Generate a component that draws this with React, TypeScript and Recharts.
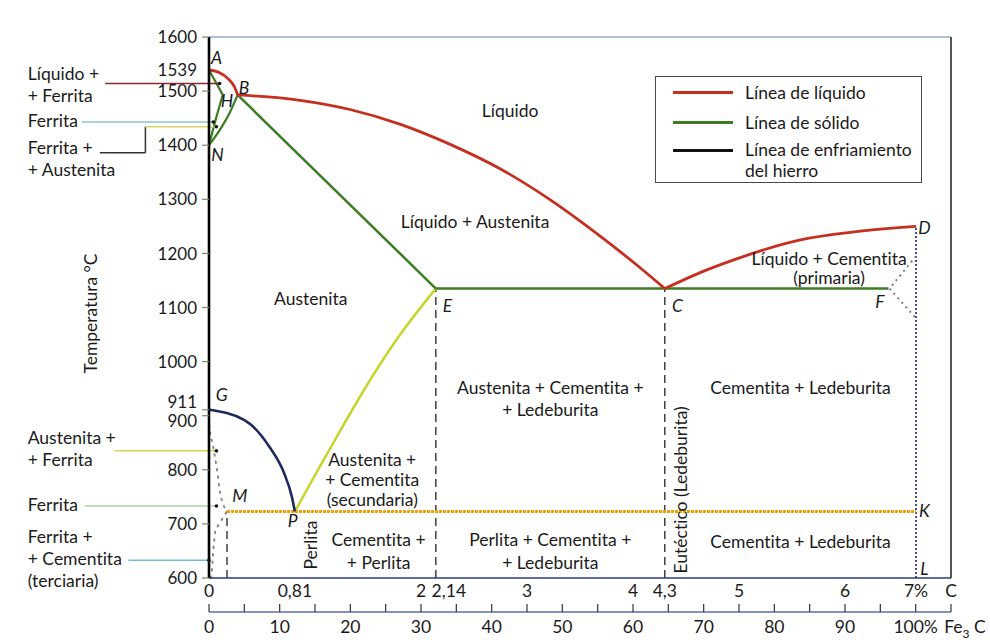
import React from 'react';
import { LineChart, Line, XAxis, YAxis, ReferenceLine, ReferenceDot, Legend } from 'recharts';

const FONT = 'Lato, "Open Sans", sans-serif';
const NOLIG: React.CSSProperties = { fontVariantLigatures: 'none', fontFeatureSettings: '"liga" 0, "clig" 0' };
const RED = '#c62f1f';
const GREEN = '#3c7d24';
const NAVY = '#1f2b5e';
const YELLOW = '#c5d62a';
const ORANGE = '#f2a007';

// ---- curves: [C %, T °C] ----
const liquidusAB = [[0, 1539], [0.1, 1534], [0.18, 1523], [0.24, 1508], [0.27, 1493]];
const liquidusBC = [[0.27, 1493], [0.86, 1483], [1.33, 1466], [1.8, 1439], [2.27, 1402], [2.75, 1356], [3.22, 1299], [3.69, 1232], [4.07, 1173], [4.3, 1135]];
const liquidusCD = [[4.3, 1135], [4.64, 1165], [4.95, 1188], [5.58, 1225], [6.05, 1239], [6.67, 1250]];
const solidusAH = [[0, 1539], [0.13, 1493]];
const solidusNH = [[0, 1400], [0.06, 1445], [0.13, 1493]];
const solidusNB = [[0, 1400], [0.12, 1434], [0.2, 1462], [0.27, 1493]];
const solidusBE = [[0.27, 1493], [2.14, 1135]];
const eutecticECF = [[2.14, 1135], [6.41, 1135]];
const lineES = [[0.81, 723], [1.0, 790], [1.24, 873], [1.52, 966], [1.8, 1049], [2.14, 1135]];
const lineGP = [[0, 911], [0.335, 892], [0.568, 843], [0.708, 794], [0.782, 750], [0.81, 723]];
const eutectoidMK = [[0.17, 723], [6.67, 723]];
const dottedGM = [[0, 911], [0.0, 886], [0.04, 842], [0.08, 794], [0.1, 763], [0.17, 723]];
const dottedQM = [[0.02, 600], [0.03, 620], [0.04, 652], [0.06, 689], [0.17, 723]];
const dottedDFK = [[6.67, 1195], [6.42, 1135], [6.67, 1080]];
const dashE = [[2.14, 600], [2.14, 1135]];
const dashC = [[4.3, 600], [4.3, 1135]];
const dashM = [[0.17, 600], [0.17, 723]];
const dottedDL = [[6.67, 600], [6.67, 1250]];

// ---- axes ----
const tempTicks = [600, 700, 800, 900, 911, 1000, 1100, 1200, 1300, 1400, 1500, 1539, 1600];
const carbonTicks = [0, 0.81, 2, 2.14, 3, 4, 4.3, 5, 6, 6.67, 7];
const carbonLabels = ['0', '0,81', '2', '2,14', '3', '4', '4,3', '5', '6', '7%', 'C'];
const cementiteTicks = [0, 5, 10, 15, 20, 25, 30, 35, 40, 45, 50, 55, 60, 65, 70, 75, 80, 85, 90, 95, 100, 105];
const cementiteLabels = ['0', '', '10', '', '20', '', '30', '', '40', '', '50', '', '60', '', '70', '', '80', '', '90', '', '100%', 'Fe3C'];
const cementiteRange = [0, 105];

// ---- text annotations ----
const regionLabels = [
  { c: 2.84, t: 1463, lines: ['Líquido'] },
  { c: 2.51, t: 1258, lines: ['Líquido + Austenita'] },
  { c: 0.96, t: 1117, lines: ['Austenita'] },
  { c: 5.85, t: 1191, lines: ['Líquido + Cementita', '(primaria)'] },
  { c: 3.22, t: 951, lines: ['Austenita + Cementita +', '+ Ledeburita'] },
  { c: 5.58, t: 951, lines: ['Cementita + Ledeburita'] },
  { c: 1.54, t: 818, lines: ['Austenita +', '+ Cementita', '(secundaria)'] },
  { c: 1.6, t: 670, lines: ['Cementita +', '+ Perlita'] },
  { c: 3.22, t: 670, lines: ['Perlita + Cementita +', '+ Ledeburita'] },
  { c: 5.58, t: 668, lines: ['Cementita + Ledeburita'] },
];
const regionLineGaps = [0, 0, 0, 19, 22, 0, 20, 23, 23, 0];
const rotatedLabels = [
  { c: 0.96, t: 661, text: 'Perlita' },
  { c: 4.45, t: 763, text: 'Eutéctico (Ledeburita)' },
];
const pointLabels = [
  { c: 0.07, t: 1561, text: 'A' },
  { c: 0.33, t: 1506, text: 'B' },
  { c: 0.17, t: 1483, text: 'H' },
  { c: 0.08, t: 1382, text: 'N' },
  { c: 0.12, t: 938, text: 'G' },
  { c: 0.29, t: 752, text: 'M' },
  { c: 0.79, t: 705, text: 'P' },
  { c: 2.25, t: 1104, text: 'E' },
  { c: 4.42, t: 1104, text: 'C' },
  { c: 6.75, t: 1247, text: 'D' },
  { c: 6.33, t: 1110, text: 'F' },
  { c: 6.75, t: 724, text: 'K' },
  { c: 6.75, t: 618, text: 'L' },
];
const sideNotes = [
  { c: -1.71, t: 1533, lines: ['Líquido +', '+ Ferrita'] },
  { c: -1.71, t: 1446, lines: ['Ferrita'] },
  { c: -1.71, t: 1395, lines: ['Ferrita +', '+ Austenita'] },
  { c: -1.71, t: 859, lines: ['Austenita +', '+ Ferrita'] },
  { c: -1.71, t: 735, lines: ['Ferrita'] },
  { c: -1.71, t: 676, lines: ['Ferrita +', '+ Cementita', '(terciaria)'] },
];
const leaderSegments = [
  { from: [-0.98, 1514], to: [0.1, 1514], color: '#8b2a2a', dot: true },
  { from: [-1.2, 1443], to: [0.04, 1443], color: '#86c9c9', dot: true },
  { from: [-1.03, 1386], to: [-0.6, 1386], color: '#333333', dot: false },
  { from: [-0.6, 1386], to: [-0.6, 1434], color: '#333333', dot: false },
  { from: [-0.6, 1434], to: [0.07, 1434], color: '#d6d468', dot: true },
  { from: [-0.89, 835], to: [0.07, 835], color: '#d8d448', dot: true },
  { from: [-1.17, 733], to: [0.07, 733], color: '#a8d4a0', dot: true },
  { from: [-0.76, 633], to: [0.0, 633], color: '#6cc0cc', dot: true },
];
const legendItems = [
  { label: ['Línea de líquido'], color: RED },
  { label: ['Línea de sólido'], color: GREEN },
  { label: ['Línea de enfriamiento', 'del hierro'], color: '#111111' },
];

const toPts = (arr: number[][]) => arr.map(([c, t]) => ({ c, t }));

type SeriesDef = { pts: number[][]; color: string; w: number; type: 'monotone' | 'linear'; dash?: string; cap?: 'round' | 'butt' };
const series: SeriesDef[] = [
  { pts: dashE, color: '#222', w: 1.3, type: 'linear', dash: '8 5' },
  { pts: dashC, color: '#222', w: 1.3, type: 'linear', dash: '8 5' },
  { pts: dashM, color: '#222', w: 1.3, type: 'linear', dash: '8 5' },
  { pts: dottedDL, color: '#4a4a9a', w: 2, type: 'linear', dash: '2 2' },
  { pts: dottedDFK, color: '#7a7a9a', w: 2, type: 'linear', dash: '2 4' },
  { pts: dottedGM, color: '#8a8a8a', w: 2, type: 'monotone', dash: '1.5 6', cap: 'round' },
  { pts: dottedQM, color: '#8a8a8a', w: 2, type: 'linear', dash: '1.5 6', cap: 'round' },
  { pts: eutectoidMK, color: ORANGE, w: 3, type: 'linear', dash: '3 1' },
  { pts: lineES, color: YELLOW, w: 2.5, type: 'monotone' },
  { pts: lineGP, color: NAVY, w: 2.6, type: 'monotone' },
  { pts: eutecticECF, color: GREEN, w: 2.5, type: 'linear' },
  { pts: solidusBE, color: GREEN, w: 2.5, type: 'linear' },
  { pts: solidusAH, color: GREEN, w: 2.2, type: 'linear' },
  { pts: solidusNH, color: GREEN, w: 2.2, type: 'monotone' },
  { pts: solidusNB, color: GREEN, w: 2.2, type: 'monotone' },
  { pts: liquidusAB, color: RED, w: 2.8, type: 'monotone' },
  { pts: liquidusBC, color: RED, w: 2.8, type: 'monotone' },
  { pts: liquidusCD, color: RED, w: 2.8, type: 'monotone' },
];

function TextBlock(props: any) {
  const { cx, cy, lines, gap = 21, anchor = 'middle', size = 17.5, italic = false, rotate = 0 } = props;
  if (cx == null || cy == null) return null;
  return (
    <text
      x={cx}
      y={cy}
      textAnchor={anchor}
      fontFamily={FONT}
      fontSize={size}
      fontStyle={italic ? 'italic' : 'normal'}
      fill="#1a1a1a"
      style={NOLIG}
      transform={rotate ? `rotate(${rotate} ${cx} ${cy})` : undefined}
    >
      {lines.map((s: string, i: number) => (
        <tspan key={i} x={cx} y={cy + i * gap} dy="0.36em">
          {s}
        </tspan>
      ))}
    </text>
  );
}

function YTick(props: any) {
  const { x, y, payload } = props;
  const v = payload.value;
  const dy = v === 911 ? -8 : v === 900 ? 5 : 0;
  return (
    <g>
      {v !== 1539 && <line x1={x + 5} x2={x + 12} y1={y} y2={y} stroke="#7d8a6a" strokeWidth={1.2} />}
      <text x={x} y={y + dy} dy="0.36em" textAnchor="end" fontFamily={FONT} fontSize={17} fill="#1a1a1a">
        {v}
      </text>
    </g>
  );
}

function CTick(props: any) {
  const { x, y, payload } = props;
  const idx = carbonTicks.indexOf(payload.value);
  const label = idx >= 0 ? carbonLabels[idx] : '';
  const dx = label === '2,14' ? 13 : 0;
  return (
    <text x={x + dx} y={y + 6} dy="0.36em" textAnchor="middle" fontFamily={FONT} fontSize={17.5} fill="#1a1a1a">
      {label}
    </text>
  );
}

function FeTick(props: any) {
  const { x, y, payload } = props;
  const idx = cementiteTicks.indexOf(payload.value);
  const label = idx >= 0 ? cementiteLabels[idx] : '';
  const base = y - 7;
  return (
    <g>
      <line x1={x} x2={x} y1={base - 8} y2={base} stroke="#333" strokeWidth={1.2} />
      {label === 'Fe3C' ? (
        <text x={x + 14} y={y + 8} dy="0.36em" textAnchor="middle" fontFamily={FONT} fontSize={17.5} fill="#1a1a1a">
          Fe
          <tspan fontSize={12} dy={5}>3</tspan>
          <tspan dy={-5}> C</tspan>
        </text>
      ) : (
        <text x={x} y={y + 8} dy="0.36em" textAnchor="middle" fontFamily={FONT} fontSize={17.5} fill="#1a1a1a">
          {label}
        </text>
      )}
    </g>
  );
}

function LegendBox() {
  const swatchY = [15.7, 45.7, 73.3];
  return (
    <div
      style={{
        position: 'relative',
        width: 267,
        height: 107,
        border: '1.5px solid #4a4a4a',
        boxSizing: 'border-box',
        background: '#fff',
        fontFamily: FONT,
        fontSize: 17.5,
        color: '#1a1a1a',
        ...NOLIG,
      }}
    >
      {legendItems.map((it, i) => (
        <React.Fragment key={i}>
          <div style={{ position: 'absolute', left: 17, top: swatchY[i] - 1.5, width: 60, height: 3, background: it.color }} />
          {it.label.map((s, j) => (
            <div key={j} style={{ position: 'absolute', left: 89, top: swatchY[i] - 11 + j * 20.7, lineHeight: '22px', whiteSpace: 'nowrap' }}>
              {s}
            </div>
          ))}
        </React.Fragment>
      ))}
    </div>
  );
}

export default function App() {
  return (
    <div style={{ position: 'absolute', left: 0, top: 0, width: 990, height: 640, background: '#fff' }}>
      <LineChart width={990} height={640} margin={{ top: 37, right: 39, bottom: 0, left: 149 }}>
        <XAxis
          xAxisId="c"
          dataKey="c"
          type="number"
          domain={[0, 7]}
          ticks={carbonTicks}
          interval={0}
          height={34}
          tickLine={false}
          tickSize={6}
          tickMargin={1}
          axisLine={{ stroke: '#2b3a80', strokeWidth: 1.6 }}
          tick={<CTick />}
        />
        <XAxis
          xAxisId="fe"
          dataKey="f"
          type="number"
          domain={[0, 105]}
          ticks={cementiteTicks}
          interval={0}
          height={28}
          tickLine={false}
          tickSize={6}
          tickMargin={1}
          axisLine={{ stroke: '#5b6fa6', strokeWidth: 1.4 }}
          tick={<FeTick />}
        />
        <YAxis
          type="number"
          domain={[600, 1600]}
          ticks={tempTicks}
          interval={0}
          width={60}
          tickLine={false}
          tickSize={7}
          tickMargin={5}
          axisLine={{ stroke: '#000', strokeWidth: 2.6 }}
          tick={<YTick />}
          label={{
            content: (p: any) => {
              const vb = p.viewBox || { x: 149, y: 37, width: 60, height: 541 };
              const cx = vb.x - 58;
              const cy = vb.y + vb.height / 2 + 6;
              return (
                <text x={cx} y={cy} transform={`rotate(-90 ${cx} ${cy})`} textAnchor="middle" dy="0.36em" fontFamily={FONT} fontSize={17.5} fill="#1a1a1a">
                  Temperatura °C
                </text>
              );
            },
          }}
        />
        <ReferenceLine xAxisId="c" y={1600} stroke="#8fb0c0" strokeWidth={1.6} ifOverflow="visible" />
        <ReferenceLine xAxisId="c" x={7} stroke="#555" strokeWidth={2} ifOverflow="visible" />

        {/* invisible carrier so the Fe3C axis gets its domain */}
        <Line
          xAxisId="fe"
          data={cementiteRange.map((f) => ({ f, t: 600 }))}
          dataKey="t"
          stroke="none"
          dot={false}
          activeDot={false}
          legendType="none"
          isAnimationActive={false}
        />

        {series.map((s, i) => (
          <Line
            key={i}
            xAxisId="c"
            data={toPts(s.pts)}
            dataKey="t"
            type={s.type}
            stroke={s.color}
            strokeWidth={s.w}
            strokeDasharray={s.dash}
            strokeLinecap={s.cap || 'butt'}
            dot={false}
            activeDot={false}
            legendType="none"
            isAnimationActive={false}
          />
        ))}

        {leaderSegments.map((l, i) => (
          <ReferenceLine
            key={'ls' + i}
            xAxisId="c"
            segment={[
              { x: l.from[0], y: l.from[1] },
              { x: l.to[0], y: l.to[1] },
            ]}
            stroke={l.color}
            strokeWidth={1.5}
            ifOverflow="visible"
          />
        ))}
        {leaderSegments
          .filter((l) => l.dot)
          .map((l, i) => (
            <ReferenceDot key={'ld' + i} xAxisId="c" x={l.to[0]} y={l.to[1]} r={1.8} fill="#111" stroke="none" ifOverflow="visible" />
          ))}

        {sideNotes.map((n, i) => (
          <ReferenceDot
            key={'sn' + i}
            xAxisId="c"
            x={n.c}
            y={n.t}
            r={0}
            ifOverflow="visible"
            shape={(p: any) => <TextBlock cx={p.cx} cy={p.cy} lines={n.lines} gap={22} anchor="start" size={17.5} />}
          />
        ))}
        {regionLabels.map((n, i) => (
          <ReferenceDot
            key={'rl' + i}
            xAxisId="c"
            x={n.c}
            y={n.t}
            r={0}
            ifOverflow="visible"
            shape={(p: any) => <TextBlock cx={p.cx} cy={p.cy} lines={n.lines} gap={regionLineGaps[i] || 21} size={17.5} />}
          />
        ))}
        {rotatedLabels.map((n, i) => (
          <ReferenceDot
            key={'rot' + i}
            xAxisId="c"
            x={n.c}
            y={n.t}
            r={0}
            ifOverflow="visible"
            shape={(p: any) => <TextBlock cx={p.cx} cy={p.cy} lines={[n.text]} rotate={-90} size={17.5} />}
          />
        ))}
        {pointLabels.map((n, i) => (
          <ReferenceDot
            key={'pl' + i}
            xAxisId="c"
            x={n.c}
            y={n.t}
            r={0}
            ifOverflow="visible"
            shape={(p: any) => <TextBlock cx={p.cx} cy={p.cy} lines={[n.text]} italic size={17.5} />}
          />
        ))}

        <Legend
          layout="horizontal"
          verticalAlign="middle"
          align="center"
          wrapperStyle={{ left: 655, top: 76, width: 267, height: 107 }}
          content={() => <LegendBox />}
        />
      </LineChart>
    </div>
  );
}
